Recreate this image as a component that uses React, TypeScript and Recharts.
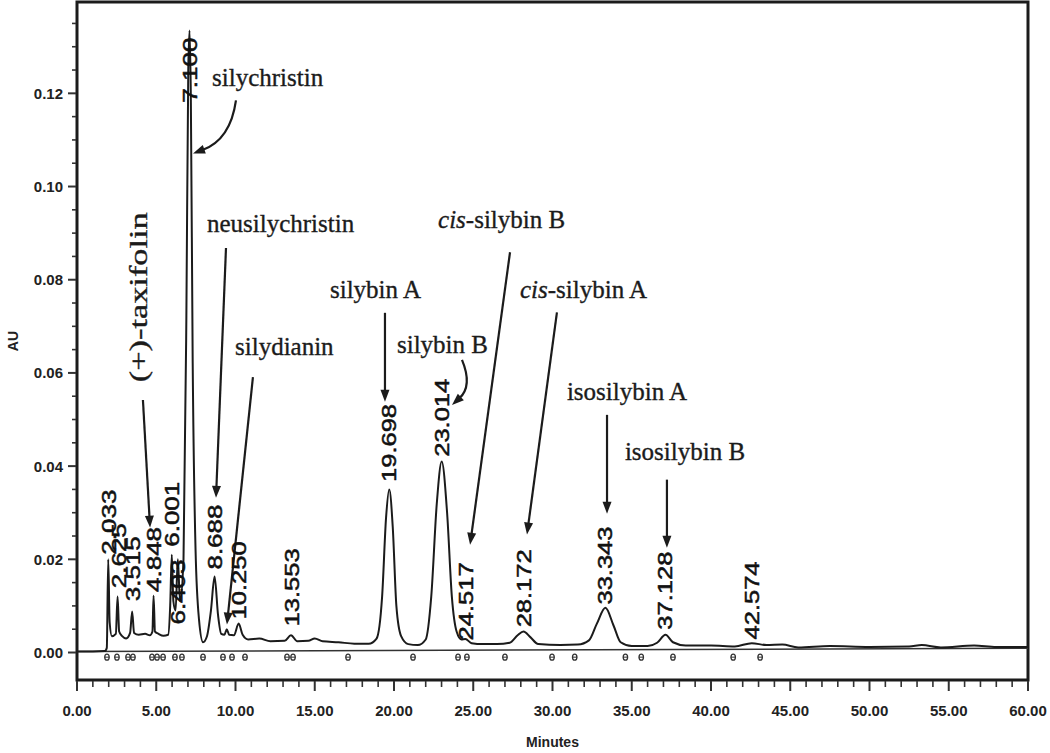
import React from 'react';
import {
  ComposedChart,
  Line,
  XAxis,
  YAxis,
  ReferenceLine,
  ReferenceDot,
  ReferenceArea,
  Scatter,
} from 'recharts';

// ---- trace (minutes, AU) ----
const traceMinutes = [
  0, 1.0, 1.75, 1.88, 1.97, 2.06, 2.2, 2.45, 2.56, 2.66, 2.85, 3.1, 3.35, 3.48, 3.6, 3.9, 4.3, 4.6,
  4.76, 4.83, 4.92, 5.15, 5.45, 5.75, 5.88, 5.98, 6.08, 6.22, 6.36, 6.5, 6.72, 6.9, 7.02, 7.1, 7.18,
  7.3, 7.48, 7.7, 7.95, 8.2, 8.45, 8.68, 8.9, 9.1, 9.3, 9.45, 9.6, 9.9, 10.2, 10.45, 10.8, 11.5,
  12.2, 13.1, 13.5, 13.9, 14.6, 15.0, 15.5, 16.5, 17.5, 18.4, 18.9, 19.25, 19.5, 19.7, 19.92, 20.15,
  20.45, 20.9, 21.5, 22.0, 22.35, 22.7, 23.01, 23.35, 23.65, 23.95, 24.25, 24.5, 24.9, 25.6, 26.5,
  27.3, 27.8, 28.17, 28.6, 29.1, 30.5, 31.6, 32.3, 32.8, 33.34, 33.85, 34.3, 35.0, 36.0, 36.6,
  37.13, 37.6, 38.4, 40.0, 41.5, 42.57, 43.5, 44.5, 45.5, 47.5, 50.0, 52.5, 53.3, 54.5, 56.6, 58.0,
  60.0,
];
const traceAU = [
  0.0002, 0.0002, 0.0003, 0.001, 0.02, 0.0065, 0.0035, 0.004, 0.012, 0.0045, 0.0035, 0.003, 0.0042,
  0.0088, 0.0042, 0.0038, 0.004, 0.0037, 0.0045, 0.0122, 0.0045, 0.004, 0.0036, 0.0038, 0.01, 0.021,
  0.011, 0.009, 0.02, 0.011, 0.02, 0.072, 0.125, 0.1335, 0.12, 0.062, 0.022, 0.007, 0.0022, 0.0035,
  0.009, 0.0163, 0.008, 0.004, 0.0038, 0.005, 0.0038, 0.0037, 0.0062, 0.0038, 0.0028, 0.003, 0.0024,
  0.0025, 0.0037, 0.0024, 0.0025, 0.003, 0.0024, 0.0022, 0.0019, 0.0019, 0.003, 0.012, 0.029, 0.035,
  0.027, 0.01, 0.0035, 0.0018, 0.0016, 0.0028, 0.012, 0.032, 0.041, 0.03, 0.012, 0.0045, 0.0028,
  0.0029, 0.002, 0.0018, 0.0018, 0.0021, 0.0037, 0.0045, 0.0033, 0.0018, 0.0016, 0.0017, 0.0026,
  0.0062, 0.0096, 0.0058, 0.0022, 0.0014, 0.0014, 0.0021, 0.0038, 0.0022, 0.0015, 0.0015, 0.0013,
  0.002, 0.0016, 0.0017, 0.0011, 0.0014, 0.0012, 0.0013, 0.0016, 0.0011, 0.0015, 0.0012, 0.0012,
];

// ---- retention-time labels ----
const peakMinutes = [2.033, 2.625, 3.515, 4.848, 6.001, 6.403, 7.1, 8.688, 10.25, 13.553, 19.698, 23.014, 24.517, 28.172, 33.343, 37.128, 42.574];
const peakLabels = ['2.033', '2.625', '3.515', '4.848', '6.001', '6.403', '7.100', '8.688', '10.250', '13.553', '19.698', '23.014', '24.517', '28.172', '33.343', '37.128', '42.574'];
const peakLabelAU = [0.021, 0.0138, 0.011, 0.013, 0.0227, 0.006, 0.118, 0.0178, 0.0071, 0.0056, 0.0366, 0.042, 0.0026, 0.0054, 0.0103, 0.0049, 0.0028];

// ---- integration markers ----
const markerMinutes = [1.89, 2.52, 3.22, 3.53, 4.73, 5.05, 5.43, 6.18, 6.62, 7.95, 9.21, 9.78, 10.6, 13.25, 13.63, 17.1, 21.2, 24.04, 24.6, 27.0, 29.97, 31.4, 34.6, 35.6, 37.6, 41.4, 43.1];
const markerAU = -0.001;

// ---- compound annotations ----
const compoundNames = ['silychristin', 'neusilychristin', 'silydianin', '(+)-taxifolin', 'silybin A', 'silybin B', 'cis-silybin B', 'cis-silybin A', 'isosilybin A', 'isosilybin B'];
const nameMinutes = [8.52, 8.2, 9.97, 4.42, 15.96, 20.19, 22.78, 27.95, 30.91, 34.57];
const nameAU = [0.1216, 0.0902, 0.0638, 0.058, 0.0761, 0.0643, 0.0911, 0.0761, 0.0542, 0.0413];
const arrowFromMinutes = [10.03, 9.4, 11.1, 4.16, 19.43, 24.29, 27.32, 30.28, 33.44, 37.22];
const arrowFromAU = [0.1185, 0.0868, 0.0591, 0.0542, 0.0729, 0.0628, 0.0859, 0.073, 0.051, 0.0371];
const arrowToMinutes = [7.32, 8.77, 9.46, 4.61, 19.43, 23.66, 24.8, 28.39, 33.44, 37.22];
const arrowToAU = [0.1071, 0.0332, 0.006, 0.0268, 0.0538, 0.0531, 0.0231, 0.0253, 0.0298, 0.0225];
const arrowBend = [-0.3, 0, 0, 0, 0, -0.35, 0, 0, 0, 0];

// ---- axes ----
const xDomain = [0, 60];
const yDomain = [-0.0059, 0.1396];
const xTicks = Array.from({ length: 61 }, (_, i) => i);
const yTicks = Array.from({ length: 28 }, (_, i) => Math.round(i * 5) / 1000);

const traceData = traceMinutes.map((t, i) => ({ t, v: traceAU[i] }));
const markerData = markerMinutes.map((t) => ({ t, v: markerAU }));

const INK = '#1b1b1b';
const SANS = '"Liberation Sans", Arial, sans-serif';
const SERIF = '"Liberation Serif", "Times New Roman", serif';

const XTick = (p: any) => {
  const v = p.payload.value;
  const major = v % 5 === 0;
  return (
    <g>
      <line x1={p.x} x2={p.x} y1={p.y + 1} y2={p.y + (major ? 11 : 7)} stroke="#333" strokeWidth={major ? 2 : 1.6} />
      {major && (
        <text x={p.x} y={p.y + 36} textAnchor="middle" fontFamily={SANS} fontWeight="bold" fontSize={15} fill="#222">
          {v.toFixed(2)}
        </text>
      )}
    </g>
  );
};

const YTick = (p: any) => {
  const v = p.payload.value;
  const major = Math.abs(v / 0.02 - Math.round(v / 0.02)) < 1e-6;
  return (
    <g>
      <line x1={p.x - (major ? 9 : 5)} x2={p.x - 1} y1={p.y} y2={p.y} stroke="#333" strokeWidth={major ? 2 : 1.6} />
      {major && (
        <text x={p.x - 14} y={p.y} dy="0.36em" textAnchor="end" fontFamily={SANS} fontWeight="bold" fontSize={15} fill="#222">
          {v.toFixed(2)}
        </text>
      )}
    </g>
  );
};

const AuLabel = (p: any) => {
  const vb = p.viewBox || { x: 0, y: 2, width: 77, height: 678 };
  const cx = vb.x + 13;
  const cy = vb.y + vb.height / 2;
  return (
    <text x={cx} y={cy} dy="0.36em" textAnchor="middle" transform={`rotate(-90 ${cx} ${cy})`} fontFamily={SANS} fontWeight="bold" fontSize={14} fill="#222">
      AU
    </text>
  );
};

const makeArrow = (bend: number) => (p: any) => {
  const { x1, y1, x2, y2 } = p;
  const dx = x2 - x1;
  const dy = y2 - y1;
  const len = Math.hypot(dx, dy) || 1;
  const nx = -dy / len;
  const ny = dx / len;
  const cx = (x1 + x2) / 2 + nx * bend * len;
  const cy = (y1 + y2) / 2 + ny * bend * len;
  const ex = x2 - cx;
  const ey = y2 - cy;
  const el = Math.hypot(ex, ey) || 1;
  const ux = ex / el;
  const uy = ey / el;
  const head = 12;
  const hw = 4.5;
  const bx = x2 - ux * head;
  const by = y2 - uy * head;
  const pts = `${x2},${y2} ${bx - uy * hw},${by + ux * hw} ${bx + uy * hw},${by - ux * hw}`;
  return (
    <g>
      <path d={`M${x1},${y1} Q${cx},${cy} ${bx + ux * 2},${by + uy * 2}`} stroke={INK} strokeWidth={2.2} fill="none" />
      <polygon points={pts} fill={INK} />
    </g>
  );
};

const nameShape = (name: string, rotated: boolean) => (p: any) => {
  const { cx, cy } = p;
  const italic = name.startsWith('cis-');
  const content = italic ? (
    <>
      <tspan fontStyle="italic">cis</tspan>
      <tspan>{name.slice(3)}</tspan>
    </>
  ) : (
    name
  );
  if (rotated) {
    return (
      <text x={cx} y={cy} transform={`rotate(-90 ${cx} ${cy})`} fontFamily={SERIF} fontSize={25} fill={INK} stroke={INK} strokeWidth={0.35} textLength={170} lengthAdjust="spacingAndGlyphs">
        {content}
      </text>
    );
  }
  return (
    <text x={cx} y={cy} fontFamily={SERIF} fontSize={25} fill={INK} stroke={INK} strokeWidth={0.35}>
      {content}
    </text>
  );
};

const peakLabelShape = (label: string) => (p: any) => {
  const x = p.cx + 7;
  const y = p.cy;
  return (
    <text x={x} y={y} transform={`rotate(-90 ${x} ${y})`} fontFamily={SANS} fontSize={20} fill="#111" stroke="#111" strokeWidth={0.5} textLength={label.length * 13} lengthAdjust="spacingAndGlyphs">
      {label}
    </text>
  );
};

const MarkerShape = (p: any) => {
  const { cx, cy } = p;
  return (
    <g>
      <ellipse cx={cx} cy={cy} rx={2.2} ry={3} fill="none" stroke="#333" strokeWidth={1.3} />
      <line x1={cx - 2.5} x2={cx + 2.5} y1={cy} y2={cy} stroke="#333" strokeWidth={1} />
    </g>
  );
};

export default function App() {
  return (
    <div style={{ position: 'absolute', left: 0, top: 0, width: 1050, height: 753, background: '#fff' }}>
      <ComposedChart width={1050} height={753} data={traceData} margin={{ top: 2, right: 22, bottom: 0, left: 0 }}>
        <XAxis
          dataKey="t"
          type="number"
          domain={xDomain}
          ticks={xTicks}
          interval={0}
          allowDataOverflow
          axisLine={false}
          tickLine={false}
          tickSize={0}
          tickMargin={0}
          height={73}
          tick={<XTick />}
          label={{ value: 'Minutes', position: 'insideBottom', offset: 6, style: { fontFamily: SANS, fontWeight: 'bold', fontSize: 14, fill: '#222' } }}
        />
        <YAxis
          type="number"
          domain={yDomain}
          ticks={yTicks}
          interval={0}
          allowDataOverflow
          axisLine={false}
          tickLine={false}
          tickSize={0}
          tickMargin={0}
          width={77}
          tick={<YTick />}
          label={<AuLabel />}
        />
        <ReferenceArea x1={xDomain[0]} x2={xDomain[1]} y1={yDomain[0]} y2={yDomain[1]} fill="none" fillOpacity={0} stroke={INK} strokeWidth={3} ifOverflow="visible" />
        <ReferenceLine segment={[{ x: 0, y: 0.0002 }, { x: 60, y: 0.0009 }]} stroke="#333" strokeWidth={1.5} ifOverflow="visible" />
        <Scatter data={markerData} dataKey="v" shape={<MarkerShape />} isAnimationActive={false} />
        <Line data={traceData} dataKey="v" type="monotone" stroke={INK} strokeWidth={2} dot={false} activeDot={false} isAnimationActive={false} />
        {peakMinutes.map((t, i) => (
          <ReferenceDot key={`pk${i}`} x={t} y={peakLabelAU[i]} r={0} ifOverflow="visible" shape={peakLabelShape(peakLabels[i])} />
        ))}
        {compoundNames.map((name, i) => (
          <ReferenceDot key={`nm${i}`} x={nameMinutes[i]} y={nameAU[i]} r={0} ifOverflow="visible" shape={nameShape(name, name === '(+)-taxifolin')} />
        ))}
        {compoundNames.map((name, i) => (
          <ReferenceLine
            key={`ar${i}`}
            segment={[{ x: arrowFromMinutes[i], y: arrowFromAU[i] }, { x: arrowToMinutes[i], y: arrowToAU[i] }]}
            ifOverflow="visible"
            shape={makeArrow(arrowBend[i])}
          />
        ))}
      </ComposedChart>
    </div>
  );
}
